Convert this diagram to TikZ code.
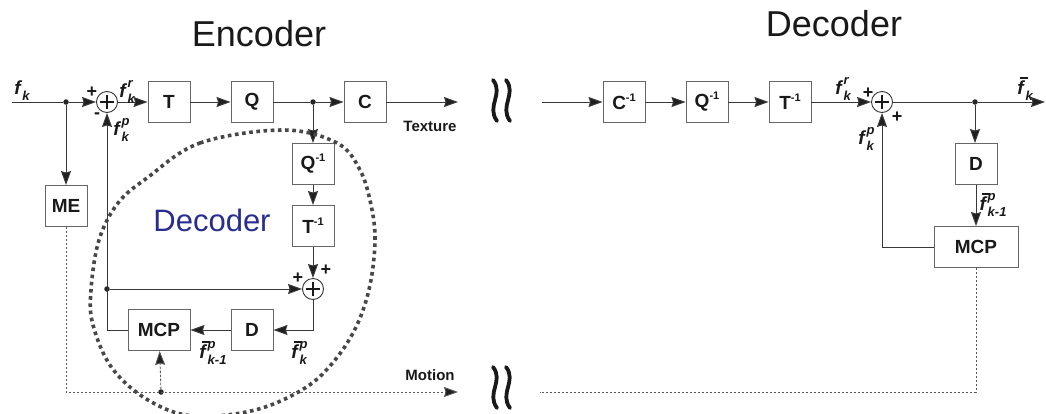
\documentclass[tikz,border=0pt]{standalone}
\usepackage{fontspec}
\setmainfont{Liberation Sans}
\usetikzlibrary{arrows.meta,calc,positioning}
% signal names: f with stacked sub/superscript
\newcommand{\sg}[3]{#1\hspace{0.1em}\makebox[0pt][l]{\raisebox{0.5em}{\fontsize{13}{13}\selectfont #3}}\raisebox{-0.32em}{\fontsize{13}{13}\selectfont #2}}
\newcommand{\fb}{\makebox[0pt][l]{\hspace{0.14em}\raisebox{0.82em}{\rule{0.42em}{1.4pt}}}f}
\newcommand{\inv}[1]{#1\raisebox{0.42em}{\fontsize{11}{11}\selectfont -1}}
\tikzset{
    blk/.style={draw=black!60,line width=0.9pt,fill=white,minimum width=42pt,minimum height=41pt,
      inner sep=0pt,font=\fontsize{19}{19}\selectfont\bfseries},
    wideblk/.style={blk,minimum width=62pt},
    widerblk/.style={blk,minimum width=84pt},
    sumnode/.style={circle,draw=black!80,line width=0.9pt,minimum size=21pt,inner sep=0pt,
      path picture={
        \draw[line width=2.8pt,black!90] ([xshift=-7pt]path picture bounding box.center) -- ++(14pt,0)
          ([yshift=-7pt]path picture bounding box.center) -- ++(0,14pt);}},
    dot/.style={circle,fill=black!85,inner sep=0pt,minimum size=5.5pt},
    wire/.style={line width=1pt,draw=black!78},
    sig/.style={wire,-{Stealth[length=14pt,width=10pt,inset=1.5pt,fill=black!88]}},
    mv/.style={line width=0.9pt,draw=black!65,dash pattern=on 2.5pt off 1.5pt},
    mvsig/.style={mv,-{Stealth[length=14pt,width=10pt,inset=1.5pt,fill=black!88]}},
    lbl/.style={font=\fontsize{19}{19}\selectfont\bfseries\itshape,inner sep=0pt},
    sgn/.style={font=\fontsize{18}{18}\selectfont\bfseries,inner sep=0pt},
    txt/.style={font=\fontsize{15}{15}\selectfont\bfseries,inner sep=0pt},
    title/.style={font=\fontsize{36}{36}\selectfont,inner sep=0pt},
    loopline/.style={line width=3.6pt,draw=black!72,dash pattern=on 3.6pt off 3.6pt},
    brk/.style={line width=3.8pt,draw=black!90,line cap=round},
    every node/.style={text=black!90}
}
\definecolor{decblue}{RGB}{40,45,145}

\begin{document}
\begin{tikzpicture}[x=1pt,y=-1pt]
  \useasboundingbox (0,0) rectangle (1046,413);

  % titles
  \node[title] (enctitle) at (259,34) {Encoder};
  \node[title] (dectitle) at (834,24) {Decoder};

  % ---- encoder ----
  \coordinate (in)  at (12,102);
  \coordinate (tex) at (458,102);
  \node[dot]     (j1) at (66,102) {};
  \node[sumnode] (s1) at (107,102) {};
  \node[blk]     (T)  at (169,102) {T};
  \node[blk]     (Q)  at (252,102) {Q};
  \node[dot]     (j2) at (313,102) {};
  \node[blk]     (C)  at (365,102) {C};
  \node[blk]     (me) at (66,206) {ME};

  % local decoder loop
  \node[blk]     (iQ)  at (313,164) {\inv{Q}};
  \node[blk]     (iT)  at (313,226) {\inv{T}};
  \node[sumnode] (s2)  at (313,289) {};
  \node[blk]     (D)   at (252,330) {D};
  \node[wideblk] (mcp) at (159,330) {MCP};
  \node[dot]     (j3)  at (107,289) {};
  \node[dot]     (j4)  at (161,392) {};
  \coordinate (mot) at (458,392);

  \draw[wire] (in) -- (j1);
  \draw[sig] (j1) -- (s1);
  \draw[sig] (s1) -- (T);
  \draw[sig] (T) -- (Q);
  \draw[wire] (Q) -- (j2);
  \draw[sig] (j2) -- (C);
  \draw[sig] (C) -- (tex);
  \draw[sig] (j1) -- (me);
  \draw[sig] (j2) -- (iQ);
  \draw[sig] (iQ) -- (iT);
  \draw[sig] (iT) -- (s2);
  \draw[sig] (s2) |- (D);
  \draw[sig] (D) -- (mcp);
  \draw[sig] (mcp.west) -| (s1);
  \draw[sig] (j3) -- (s2);
  \draw[mvsig] (me) |- (mot);
  \draw[mvsig] (j4) -- (mcp);

  \node[lbl] (lfk)  at (22,91)   {\sg{f}{k}{}};
  \node[sgn] (p1)   at (92,92)   {+};
  \node[sgn] (m1)   at (97,116)  {-};
  \node[lbl] (lfr)  at (127,92)  {\sg{f}{k}{r}};
  \node[lbl] (lfp)  at (121,130) {\sg{f}{k}{p}};
  \node[sgn] (p2)   at (326,270) {+};
  \node[sgn] (p3)   at (298,278) {+};
  \node[lbl] (lfb1) at (213,353) {\sg{\fb}{k-1}{p}};
  \node[lbl] (lfb0) at (299,353) {\sg{\fb}{k}{p}};
  \node[txt] (ltex) at (430,126) {Texture};
  \node[txt] (lmot) at (430,375) {Motion};
  \node[font=\fontsize{31}{31}\selectfont,text=decblue] (ldec) at (212,220) {Decoder};

  \draw[loopline] plot[smooth cycle,tension=0.6] coordinates {
    (147,178) (200,143) (283,130) (337,143) (360,170) (371,205) (375,240)
    (370,285) (357,325) (335,360) (305,388) (255,410) (193,416) (148,400)
    (112,368) (93,325) (91,290) (99,240) (118,203)};

  % ---- channel breaks ----
  \foreach \bx/\by in {493/80,506/80,493/367,506/367}{
    \draw[brk] (\bx,\by) .. controls (\bx+11,\by+14) and (\bx-7,\by+26) .. (\bx+4,\by+41);
  }

  % ---- decoder ----
  \coordinate (din)  at (542,102);
  \coordinate (out)  at (1045,102);
  \coordinate (dmot) at (540,392);
  \node[blk]      (iC)   at (624,102) {\inv{C}};
  \node[blk]      (diQ)  at (707,102) {\inv{Q}};
  \node[blk]      (diT)  at (790,102) {\inv{T}};
  \node[sumnode]  (s3)   at (882,102) {};
  \node[dot]      (j5)   at (975,102) {};
  \node[blk]      (dD)   at (976,164) {D};
  \node[widerblk] (dmcp) at (976,247) {MCP};

  \draw[sig] (din) -- (iC);
  \draw[sig] (iC) -- (diQ);
  \draw[sig] (diQ) -- (diT);
  \draw[sig] (diT) -- (s3);
  \draw[wire] (s3) -- (j5);
  \draw[sig] (j5) -- (out);
  \draw[sig] (j5) -- (j5 |- dD.north);
  \draw[sig] (dD) -- (dmcp);
  \draw[sig] (dmcp.west) -| (s3);
  \draw[mv] (dmcp) |- (dmot);

  \node[lbl] (dfr)  at (843,89)   {\sg{f}{k}{r}};
  \node[sgn] (p4)   at (868,93)   {+};
  \node[sgn] (p5)   at (897,117)  {+};
  \node[lbl] (dfp)  at (866,139)  {\sg{f}{k}{p}};
  \node[lbl] (dfo)  at (1025,89)  {\sg{\fb}{k}{}};
  \node[lbl] (dfb1) at (993,205)  {\sg{\fb}{k-1}{p}};
\end{tikzpicture}
\end{document}
